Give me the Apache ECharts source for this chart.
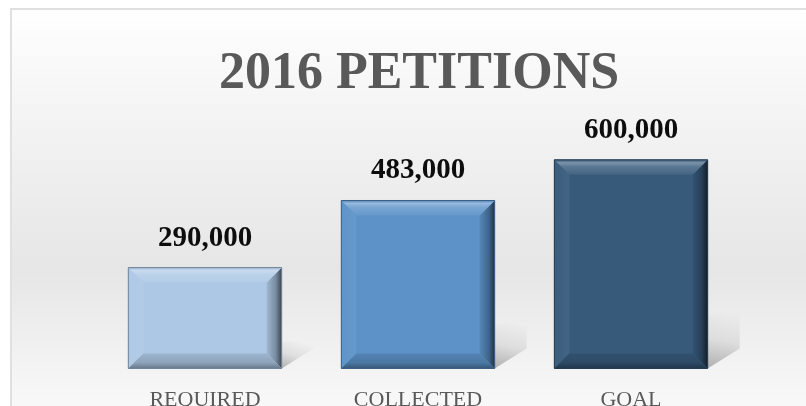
<!DOCTYPE html>
<html>
<head>
<meta charset="utf-8">
<script src="https://cdn.jsdelivr.net/npm/echarts@6/dist/echarts.min.js"></script>
<style>
  html, body { margin: 0; padding: 0; background: #fff; }
  #chart { width: 806px; height: 406px; }
</style>
</head>
<body>
<div id="chart"></div>
<script>
var categories = ['REQUIRED', 'COLLECTED', 'GOAL'];
var values = [290000, 483000, 600000];
var titleText = '2016 PETITIONS';

var barColors = ['#adc8e5', '#5c92c8', '#375a7b'];

function mix(hex, target, t) {
    var a = parseInt(hex.slice(1), 16), b = parseInt(target.slice(1), 16);
    var r = Math.round(((a >> 16) & 255) * (1 - t) + ((b >> 16) & 255) * t);
    var g = Math.round(((a >> 8) & 255) * (1 - t) + ((b >> 8) & 255) * t);
    var bl = Math.round((a & 255) * (1 - t) + (b & 255) * t);
    return 'rgb(' + r + ',' + g + ',' + bl + ')';
}
function lighten(c, t) { return mix(c, '#ffffff', t); }
function darken(c, t) { return mix(c, '#000000', t); }
function grad(x, y, x2, y2, stops) {
    return new echarts.graphic.LinearGradient(x, y, x2, y2, stops.map(function (s) {
        return {offset: s[0], color: s[1]};
    }));
}

var chart = echarts.init(document.getElementById('chart'));

var option = {
    animation: false,
    graphic: [{
        type: 'rect',
        z: -10,
        silent: true,
        shape: {x: 11, y: 9, width: 830, height: 420},
        style: {
            fill: grad(0, 0, 0, 1, [
                [0, '#ffffff'], [0.2, '#f6f6f6'], [0.62, '#e6e6e6'], [0.9, '#f6f6f6'], [1, '#fbfbfb']
            ]),
            stroke: '#e0e0e0',
            lineWidth: 2
        }
    }],
    title: {
        text: titleText,
        left: 414,
        textAlign: 'center',
        top: 44,
        textStyle: {
            fontFamily: 'Liberation Serif',
            fontWeight: 'bold',
            fontSize: 52,
            color: '#595959'
        }
    },
    grid: {left: 98.5, width: 639, top: 125, bottom: 37.5, outerBoundsMode: 'none', containLabel: false},
    xAxis: {
        type: 'category',
        data: categories,
        axisLine: {show: false},
        axisTick: {show: false},
        axisLabel: {
            margin: 21,
            fontFamily: 'Liberation Serif',
            fontSize: 22,
            color: '#595959'
        }
    },
    yAxis: {
        type: 'value',
        min: 0,
        max: 700000,
        show: false,
        splitLine: {show: false}
    },
    series: [{
        type: 'custom',
        data: values.map(function (v, i) { return [i, v]; }),
        renderItem: function (params, api) {
            var top = api.coord([api.value(0), api.value(1)]);
            var base = api.coord([api.value(0), 0]);
            var bw = api.size([1, 0])[0] * 0.72;
            var x0 = top[0] - bw / 2, x1 = top[0] + bw / 2;
            var y0 = top[1], y1 = base[1];
            var h = y1 - y0;
            var b = 15;
            var c = barColors[params.dataIndex];
            var sh = h * 0.26;
            return {
                type: 'group',
                children: [
                    // soft cast shadow to the right
                    {
                        type: 'polygon',
                        shape: {points: [[x1, y1], [x1, y1 - sh], [x1 + 32, y1 - sh - 4], [x1 + 32, y1 - 20]]},
                        style: {fill: grad(0, 1, 0.3, 0, [[0, 'rgba(0,0,0,0.28)'], [0.5, 'rgba(0,0,0,0.08)'], [1, 'rgba(0,0,0,0)']])}
                    },
                    // face
                    {type: 'rect', shape: {x: x0, y: y0, width: bw, height: h}, style: {fill: c}},
                    // left bevel
                    {
                        type: 'polygon',
                        shape: {points: [[x0, y0], [x0 + b, y0 + b], [x0 + b, y1 - b], [x0, y1]]},
                        style: {fill: grad(0, 0, 1, 0, [[0, lighten(c, 0.02)], [1, lighten(c, 0.06)]])}
                    },
                    // right bevel
                    {
                        type: 'polygon',
                        shape: {points: [[x1, y0], [x1, y1], [x1 - b, y1 - b], [x1 - b, y0 + b]]},
                        style: {fill: grad(0, 0, 1, 0, [[0, darken(c, 0.08)], [0.6, darken(c, 0.3)], [1, darken(c, 0.65)]])}
                    },
                    // bottom bevel
                    {
                        type: 'polygon',
                        shape: {points: [[x0, y1], [x1, y1], [x1 - b, y1 - b], [x0 + b, y1 - b]]},
                        style: {fill: grad(0, 0, 0, 1, [[0, darken(c, 0.1)], [0.6, darken(c, 0.18)], [1, darken(c, 0.4)]])}
                    },
                    // top bevel
                    {
                        type: 'polygon',
                        shape: {points: [[x0, y0], [x1, y0], [x1 - b, y0 + b], [x0 + b, y0 + b]]},
                        style: {fill: grad(0, 0, 0, 1, [[0, darken(c, 0.05)], [0.2, lighten(c, 0.35)], [0.45, lighten(c, 0.18)], [1, lighten(c, 0.06)]])}
                    },
                    // outline
                    {
                        type: 'rect',
                        shape: {x: x0, y: y0, width: bw, height: h},
                        style: {fill: null, stroke: darken(c, 0.35), lineWidth: 1}
                    },
                    // value label
                    {
                        type: 'text',
                        style: {
                            text: api.value(1).toLocaleString('en-US'),
                            x: top[0],
                            y: y0 - 15,
                            align: 'center',
                            verticalAlign: 'bottom',
                            fontFamily: 'Liberation Serif',
                            fontWeight: 'bold',
                            fontSize: 29,
                            fill: '#0d0d0d'
                        }
                    }
                ]
            };
        }
    }]
};

chart.setOption(option);
</script>
</body>
</html>
